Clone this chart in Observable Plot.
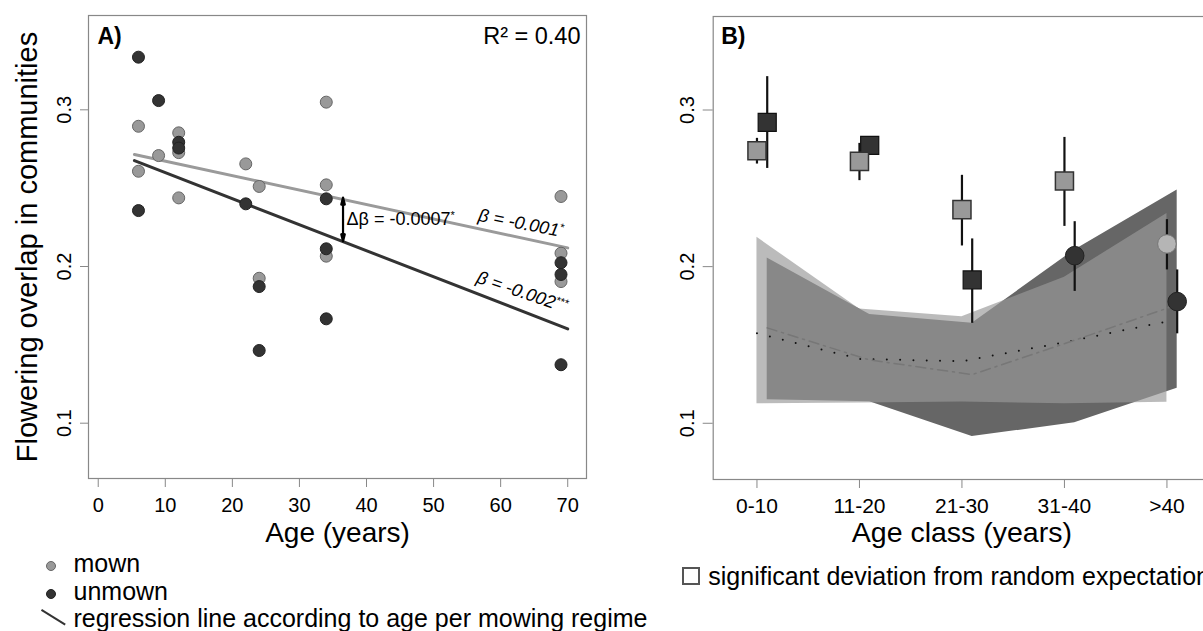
<!DOCTYPE html>
<html>
<head>
<meta charset="utf-8">
<script src="https://cdn.jsdelivr.net/npm/d3@7"></script>
<script src="https://cdn.jsdelivr.net/npm/@observablehq/plot@0.6"></script>
<style>
html, body { margin: 0; padding: 0; background: #fff; overflow: hidden; }
#wrap { position: relative; width: 1203px; height: 631px; overflow: hidden; font-family: "Liberation Sans", Arial, sans-serif; color: #000; }
#pa { position: absolute; left: 0; top: 0; width: 600px; height: 552px; }
#pb { position: absolute; left: 640px; top: 0; width: 600px; height: 552px; }
#pa svg, #pb svg { max-width: none !important; }
.lt { position: absolute; font-size: 25px; line-height: 22px; white-space: nowrap; }
.ldot { position: absolute; width: 10px; height: 10px; border-radius: 50%; box-sizing: border-box; }
</style>
</head>
<body>
<div id="wrap">
  <div id="pa"></div>
  <div id="pb"></div>
  <div class="ldot" style="left:45.7px; top:560.5px; background:#999; border:1px solid #666;"></div>
  <div class="lt" style="left:73.5px; top:552px;">mown</div>
  <div class="ldot" style="left:45.7px; top:588.6px; background:#333; border:1px solid #222;"></div>
  <div class="lt" style="left:73.5px; top:580px;">unmown</div>
  <div style="position:absolute; left:41.7px; top:608.5px; width:27.5px; height:0; border-top:2px solid #333; transform:rotate(32deg); transform-origin:0 0;"></div>
  <div class="lt" style="left:73.5px; top:606.8px;">regression line according to age per mowing regime</div>
  <div style="position:absolute; left:681.7px; top:566.7px; width:18px; height:18px; box-sizing:border-box; border:2px solid #555; background:#fff;"></div>
  <div class="lt" style="left:708.3px; top:565px;">significant deviation from random expectation</div>
</div>
<script>
// ---------- Panel A data ----------
const mownAge = [6, 6, 9, 12, 12, 12, 22, 24, 24, 34, 34, 34, 69, 69, 69];
const mownOverlap = [0.2895, 0.2608, 0.2708, 0.2853, 0.2727, 0.2438, 0.2655, 0.2511, 0.1925, 0.3049, 0.2521, 0.2066, 0.2447, 0.2085, 0.1904];
const unmownAge = [6, 6, 9, 12, 12, 22, 24, 24, 34, 34, 34, 69, 69, 69];
const unmownOverlap = [0.3336, 0.2357, 0.3059, 0.2793, 0.2756, 0.2400, 0.1872, 0.1464, 0.2432, 0.2113, 0.1666, 0.2024, 0.1949, 0.1373];
const fitAge = [5.4, 70];
const mownFit = [0.2715, 0.2119];
const unmownFit = [0.2676, 0.1602];
const deltaAge = [36.5];
const deltaTop = [0.2440];
const deltaBottom = [0.2161];
const ageTicks = [0, 10, 20, 30, 40, 50, 60, 70];
const overlapTicks = [0.1, 0.2, 0.3];
const deltaLabel = "Δβ = -0.0007*";
const slopeLabels = ["β = -0.001*", "β = -0.002***"];
const slopeLabelAge = [63.0, 63.2];
const slopeLabelValue = [0.2276, 0.1836];
const slopeLabelAngle = [11, 19];
const r2Label = "R² = 0.40";

// ---------- Panel B data ----------
const ageClasses = ["0-10", "11-20", "21-30", "31-40", ">40"];
const mownMean = [0.2740, 0.2672, 0.2364, 0.2547, 0.2145];
const mownLow = [0.2655, 0.2549, 0.2132, 0.2257, 0.1979];
const mownHigh = [0.2819, 0.2787, 0.2583, 0.2825, 0.2300];
const mownSig = [true, true, true, true, false];
const unmownMean = [0.2921, 0.2774, 0.1915, 0.2070, 0.1777];
const unmownLow = [0.2627, 0.2745, 0.1638, 0.1842, 0.1571];
const unmownHigh = [0.3213, 0.2805, 0.2177, 0.2287, 0.1979];
const unmownSig = [true, true, true, false, false];
const mownNullMean = [0.1574, 0.1411, 0.1396, 0.1517, 0.1650];
const mownNullLow = [0.1124, 0.1130, 0.1136, 0.1124, 0.1134];
const mownNullHigh = [0.2187, 0.1730, 0.1680, 0.1932, 0.2340];
const unmownNullMean = [0.1609, 0.1404, 0.1311, 0.1530, 0.1757];
const unmownNullLow = [0.1150, 0.1137, 0.0915, 0.1003, 0.1223];
const unmownNullHigh = [0.2055, 0.1694, 0.1638, 0.2107, 0.2490];

const FONT = "'Liberation Sans', Arial, Helvetica, sans-serif";
const dodge = 0.1;

// ---------- tables ----------
const mownPts = mownAge.map((a, i) => ({age: a, v: mownOverlap[i]}));
const unmownPts = unmownAge.map((a, i) => ({age: a, v: unmownOverlap[i]}));
const fitTable = fitAge.map((a, i) => ({age: a, mown: mownFit[i], unmown: unmownFit[i]}));
const deltaTable = deltaAge.map((a, i) => ({age: a, top: deltaTop[i], bottom: deltaBottom[i], mid: (deltaTop[i] + deltaBottom[i]) / 2}));
const slopeTable = slopeLabels.map((t, i) => ({t, age: slopeLabelAge[i], v: slopeLabelValue[i], rot: slopeLabelAngle[i]}));

const bTable = ageClasses.map((c, i) => ({
  cls: c, xm: i, xu: i + dodge,
  mMean: mownMean[i], mLow: mownLow[i], mHigh: mownHigh[i], mSig: mownSig[i],
  uMean: unmownMean[i], uLow: unmownLow[i], uHigh: unmownHigh[i], uSig: unmownSig[i],
  mNull: mownNullMean[i], mNullLow: mownNullLow[i], mNullHigh: mownNullHigh[i],
  uNull: unmownNullMean[i], uNullLow: unmownNullLow[i], uNullHigh: unmownNullHigh[i]
}));

function superAsterisks(svg) {
  svg.querySelectorAll("text").forEach(t => {
    if (t.children.length) return;
    const m = t.textContent.match(/^(.+?)(\*+)$/);
    if (!m) return;
    t.textContent = m[1];
    const ts = document.createElementNS("http://www.w3.org/2000/svg", "tspan");
    ts.setAttribute("dy", "-6");
    ts.setAttribute("font-size", "11");
    ts.textContent = m[2];
    t.appendChild(ts);
  });
}

// ---------- Panel A ----------
const plotA = Plot.plot({
  width: 600, height: 552,
  marginTop: 15, marginBottom: 74, marginLeft: 88, marginRight: 14,
  x: {domain: [-1.45, 72.8]},
  y: {domain: [0.0647, 0.3602]},
  style: {fontFamily: FONT, background: "white", color: "black", fontSize: "20px", maxWidth: "none"},
  marks: [
    Plot.frame({stroke: "#888", strokeWidth: 1.2}),
    Plot.axisX(ageTicks, {tickSize: 9, tickPadding: 10, fontSize: 20, stroke: "#888", fill: "#000", label: null}),
    Plot.axisY(overlapTicks, {tickSize: 8, tickPadding: 10, tickRotate: -90, textAnchor: "middle", lineAnchor: "bottom", fontSize: 20, stroke: "#888", fill: "#000", label: null, tickFormat: d => d.toFixed(1)}),
    Plot.text(["Age (years)"], {text: d => d, frameAnchor: "bottom", dy: 63, lineAnchor: "bottom", fontSize: 28}),
    Plot.text(["Flowering overlap in communities"], {text: d => d, frameAnchor: "left", rotate: -90, dx: -52, lineAnchor: "bottom", textAnchor: "middle", fontSize: 29}),
    Plot.line(fitTable, {x: "age", y: "mown", stroke: "#9a9a9a", strokeWidth: 3}),
    Plot.line(fitTable, {x: "age", y: "unmown", stroke: "#333", strokeWidth: 3}),
    Plot.dot(mownPts, {x: "age", y: "v", r: 6, fill: "#999", stroke: "#666", strokeWidth: 1}),
    Plot.dot(unmownPts, {x: "age", y: "v", r: 6, fill: "#333", stroke: "#222", strokeWidth: 1}),
    Plot.arrow(deltaTable, {x: "age", y1: "mid", y2: "top", stroke: "#000", strokeWidth: 2.2, headLength: 11, headAngle: 28}),
    Plot.arrow(deltaTable, {x: "age", y1: "mid", y2: "bottom", stroke: "#000", strokeWidth: 2.2, headLength: 11, headAngle: 28}),
    Plot.text(deltaTable, {x: "age", y: "mid", text: () => deltaLabel, dx: 3.5, textAnchor: "start", lineAnchor: "middle", fontSize: 18}),
    Plot.text(slopeTable, {x: "age", y: "v", text: "t", rotate: "rot", textAnchor: "middle", lineAnchor: "middle", fontSize: 18, fontStyle: "italic"}),
    Plot.text(["A)"], {text: d => d, frameAnchor: "top-left", dx: 9, dy: 12, lineAnchor: "top", textAnchor: "start", fontWeight: "bold", fontSize: 23}),
    Plot.text([r2Label], {text: d => d, frameAnchor: "top-right", dx: -6, dy: 11.5, lineAnchor: "top", textAnchor: "end", fontSize: 23.5})
  ]
});
superAsterisks(plotA);
document.getElementById("pa").appendChild(plotA);

// ---------- Panel B ----------
const plotB = Plot.plot({
  width: 600, height: 552,
  marginTop: 16, marginBottom: 73, marginLeft: 72.7, marginRight: 30,
  x: {domain: [-0.427, 4.425]},
  y: {domain: [0.0641, 0.3597]},
  style: {fontFamily: FONT, background: "white", color: "black", fontSize: "20px", maxWidth: "none"},
  marks: [
    Plot.areaY(bTable, {x: "xu", y1: "uNullLow", y2: "uNullHigh", fill: "#666"}),
    Plot.areaY(bTable, {x: "xm", y1: "mNullLow", y2: "mNullHigh", fill: "#999", fillOpacity: 0.667}),
    Plot.line(bTable, {x: "xm", y: "mNull", stroke: "#111", strokeWidth: 2, strokeDasharray: "0,13.3", strokeLinecap: "round"}),
    Plot.line(bTable, {x: "xu", y: "uNull", stroke: "#777", strokeWidth: 1.5, strokeDasharray: "10,5,2,5"}),
    Plot.frame({stroke: "#888", strokeWidth: 1.2}),
    Plot.axisX([0, 1, 2, 3, 4], {tickFormat: i => ageClasses[i], tickSize: 9, tickPadding: 10, fontSize: 21, stroke: "#888", fill: "#000", label: null}),
    Plot.axisY(overlapTicks, {tickSize: 10, tickPadding: 8.7, tickRotate: -90, textAnchor: "middle", lineAnchor: "bottom", fontSize: 20, stroke: "#888", fill: "#000", label: null, tickFormat: d => d.toFixed(1)}),
    Plot.text(["Age class (years)"], {text: d => d, frameAnchor: "bottom", dy: 62, lineAnchor: "bottom", fontSize: 28.5}),
    // unmown
    Plot.ruleX(bTable, {x: "xu", y1: "uLow", y2: "uHigh", stroke: "#111", strokeWidth: 2.2}),
    Plot.dot(bTable.filter(d => d.uSig), {x: "xu", y: "uMean", symbol: "square", r: 10.2, fill: "#333", stroke: "#111", strokeWidth: 1.2}),
    Plot.dot(bTable.filter(d => !d.uSig), {x: "xu", y: "uMean", symbol: "circle", r: 9.3, fill: "#333", stroke: "#222", strokeWidth: 1}),
    // mown
    Plot.ruleX(bTable, {x: "xm", y1: "mLow", y2: "mHigh", stroke: "#111", strokeWidth: 2.2}),
    Plot.dot(bTable.filter(d => d.mSig), {x: "xm", y: "mMean", symbol: "square", r: 10.2, fill: "#999", stroke: "#333", strokeWidth: 1.5}),
    Plot.dot(bTable.filter(d => !d.mSig), {x: "xm", y: "mMean", symbol: "circle", r: 9.3, fill: "#b5b5b5", stroke: "#777", strokeWidth: 1}),
    Plot.text(["B)"], {text: d => d, frameAnchor: "top-left", dx: 8, dy: 11, lineAnchor: "top", textAnchor: "start", fontWeight: "bold", fontSize: 23})
  ]
});
document.getElementById("pb").appendChild(plotB);
</script>
</body>
</html>
